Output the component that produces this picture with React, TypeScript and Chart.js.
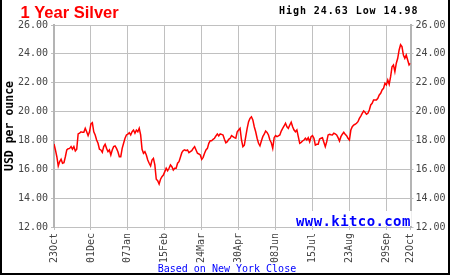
import React, { useEffect, useRef } from 'react';
import { Chart, registerables } from 'chart.js';

Chart.register(...registerables);

// Daily closing prices (USD per ounce), one per trading day, 23Oct -> 22Oct
const silverPrices: number[] = [
  17.75, 17.34, 16.87, 16.23, 16.53, 16.69, 16.42, 16.46, 16.87, 17.34, 17.43, 17.45, 17.57, 17.39, 17.57, 17.27, 17.39, 18.45, 18.5, 18.6, 18.56, 18.56, 18.84, 18.6, 18.33, 18.6, 19.14,
  19.23, 18.6, 18.38, 18.03, 17.8, 17.39, 17.34, 17.18, 17.57, 17.73, 17.45, 17.22, 17.34, 16.99, 17.34, 17.57, 17.62, 17.45, 17.22, 16.87, 16.87, 17.45, 17.8, 18.15, 18.38, 18.43,
  18.54, 18.38, 18.6, 18.72, 18.5, 18.72, 18.6, 18.84, 18.38, 17.39, 17.11, 17.22, 16.99, 16.64, 16.42, 16.23, 16.64, 16.76, 16.3, 15.31, 15.21, 14.98, 15.31, 15.49, 15.6, 15.84,
  16.07, 15.9, 16.07, 16.3, 16.18, 15.95, 16.07, 16.07, 16.42, 16.53, 16.83, 17.15, 17.29, 17.34, 17.29, 17.34, 17.15, 17.22, 17.29, 17.45, 17.57, 17.34, 17.11, 17.06, 16.99, 16.69,
  16.83, 17.11, 17.34, 17.45, 17.8, 17.98, 17.98, 18.08, 18.15, 18.31, 18.45, 18.31, 18.45, 18.42, 18.38, 18.08, 17.84, 17.91, 18.08, 18.15, 18.33, 18.26, 18.19, 18.15, 18.6, 18.72,
  18.84, 18.03, 17.57, 17.68, 18.26, 18.84, 19.3, 19.53, 19.64, 19.42, 18.95, 18.6, 18.15, 17.8, 17.63, 17.96, 18.26, 18.43, 18.65, 18.56, 18.38, 18.03, 17.84, 17.45, 18.19, 18.33,
  18.26, 18.31, 18.38, 18.65, 18.84, 19.0, 19.19, 18.95, 18.84, 19.07, 19.26, 18.95, 18.72, 18.6, 18.72, 18.26, 17.8, 17.87, 17.96, 18.03, 18.15, 18.03, 18.19, 17.91, 18.26, 18.33,
  18.15, 17.68, 17.73, 17.73, 18.1, 18.15, 18.19, 17.87, 17.57, 17.91, 18.38, 18.43, 18.4, 18.38, 18.5, 18.45, 18.38, 18.19, 17.96, 18.26, 18.43, 18.56, 18.43, 18.33, 18.15, 18.03,
  18.72, 18.95, 19.07, 19.12, 19.19, 19.3, 19.53, 19.69, 19.88, 20.04, 19.95, 19.81, 19.88, 20.11, 20.46, 20.57, 20.8, 20.8, 20.8, 20.92, 21.15, 21.27, 21.5, 21.61, 21.96, 21.84,
  22.19, 21.89, 22.42, 23.11, 23.23, 22.76, 23.35, 23.69, 24.27, 24.63, 24.5, 23.92, 23.69, 23.92, 23.57, 23.23, 23.35,
];

// trading-day index of each date label
const tickDays: number[] = [0, 26, 52, 78, 104, 130, 156, 182, 208, 234, 251];
const tickLabels: string[] = ['23Oct', '01Dec', '07Jan', '15Feb', '24Mar', '30Apr', '08Jun', '15Jul', '23Aug', '29Sep', '22Oct'];

const yMin = 12;
const yMax = 26;
const yStep = 2;

const titleText = '1 Year Silver';
const highLowText = 'High 24.63 Low 14.98';
const sourceText = 'www.kitco.com';
const noteText = 'Based on New York Close';
const yTitleText = 'USD per ounce';

const GRID = '#c0c0c0';
const AXIS = '#b4b4b4';
const TICK_TEXT = '#444444';
const MONO = '"DejaVu Sans Mono", monospace';

const overlayPlugin = {
  id: 'overlayTexts',
  afterDraw(chart: any) {
    const ctx: CanvasRenderingContext2D = chart.ctx;
    const w = chart.width;
    const h = chart.height;
    ctx.save();
    // frame
    ctx.fillStyle = '#000000';
    ctx.fillRect(0, 0, 2, h);
    ctx.fillRect(w - 2, 0, 2, h);
    ctx.fillRect(0, h - 2, w, 2);

    ctx.textAlign = 'left';
    ctx.textBaseline = 'alphabetic';

    // title
    ctx.fillStyle = '#ff0000';
    ctx.font = 'bold 16.5px "Liberation Sans", Arial, sans-serif';
    (ctx as any).letterSpacing = '0px';
    ctx.fillText(titleText, 20.5, 17.7);

    // high / low
    ctx.fillStyle = '#000000';
    ctx.font = `bold 10px ${MONO}`;
    (ctx as any).letterSpacing = '0.95px';
    ctx.fillText(highLowText, 279, 13.5);

    // source
    ctx.font = `bold 14px ${MONO}`;
    (ctx as any).letterSpacing = '0.4px';
    const sw = ctx.measureText(sourceText).width;
    ctx.fillStyle = '#ffffff';
    ctx.fillRect(294, 211, sw + 3, 15);
    ctx.fillStyle = '#0000ff';
    ctx.fillText(sourceText, 296, 225.5);

    // note
    ctx.font = `10px ${MONO}`;
    (ctx as any).letterSpacing = '0px';
    ctx.fillStyle = '#0000ff';
    ctx.fillText(noteText, 157.7, 272.3);
    ctx.restore();
  },
};

export default function App() {
  const canvasRef = useRef<HTMLCanvasElement | null>(null);

  useEffect(() => {
    const canvas = canvasRef.current;
    if (!canvas) return;
    const chart = new Chart(canvas, {
      type: 'line',
      data: {
        labels: silverPrices.map((_, i) => i),
        datasets: [
          {
            data: silverPrices,
            borderColor: '#ff0000',
            borderWidth: 1.5,
            pointRadius: 0,
            tension: 0,
            fill: false,
          },
        ],
      },
      options: {
        animation: false,
        responsive: false,
        devicePixelRatio: 1,
        layout: { padding: { top: 25, left: 0, right: 0, bottom: 0 } },
        plugins: {
          legend: { display: false },
          tooltip: { enabled: false },
          title: { display: false },
        },
        scales: {
          x: {
            type: 'linear',
            min: 0,
            max: tickDays[tickDays.length - 1],
            afterBuildTicks: (axis: any) => {
              axis.ticks = tickDays.map((v) => ({ value: v }));
            },
            afterFit: (scale: any) => {
              scale.height = 48;
            },
            ticks: {
              autoSkip: false,
              minRotation: 90,
              maxRotation: 90,
              padding: 3,
              color: TICK_TEXT,
              font: { family: MONO, size: 10 },
              callback: (value: any) => {
                const i = tickDays.indexOf(Number(value));
                return i >= 0 ? tickLabels[i] : '';
              },
            },
            grid: { color: GRID, lineWidth: 1, tickLength: 3, drawTicks: true },
            border: { display: true, color: GRID, width: 1 },
          },
          y: {
            position: 'left',
            min: yMin,
            max: yMax,
            afterFit: (scale: any) => {
              scale.width = 54;
            },
            ticks: {
              stepSize: yStep,
              padding: 3,
              color: TICK_TEXT,
              font: { family: MONO, size: 10 },
              callback: (v: any) => Number(v).toFixed(2),
            },
            grid: { color: GRID, lineWidth: 1, tickLength: 3 },
            border: { display: true, color: AXIS, width: 2 },
            title: {
              display: true,
              text: yTitleText,
              color: '#000000',
              font: { family: MONO, size: 11.5, weight: 'bold' },
              padding: { top: 3, bottom: 0 },
            },
          },
          y2: {
            position: 'right',
            min: yMin,
            max: yMax,
            afterFit: (scale: any) => {
              scale.width = 39.5;
            },
            ticks: {
              stepSize: yStep,
              padding: 2,
              color: TICK_TEXT,
              font: { family: MONO, size: 10 },
              callback: (v: any) => Number(v).toFixed(2),
            },
            grid: { color: GRID, lineWidth: 1, tickLength: 3, drawOnChartArea: false },
            border: { display: true, color: AXIS, width: 2 },
          },
        },
      } as any,
      plugins: [overlayPlugin],
    });
    return () => chart.destroy();
  }, []);

  return (
    <div style={{ position: 'absolute', left: 0, top: 0, width: 450, height: 275, background: '#ffffff' }}>
      <canvas ref={canvasRef} width={450} height={275} style={{ display: 'block', width: 450, height: 275 }} />
    </div>
  );
}
